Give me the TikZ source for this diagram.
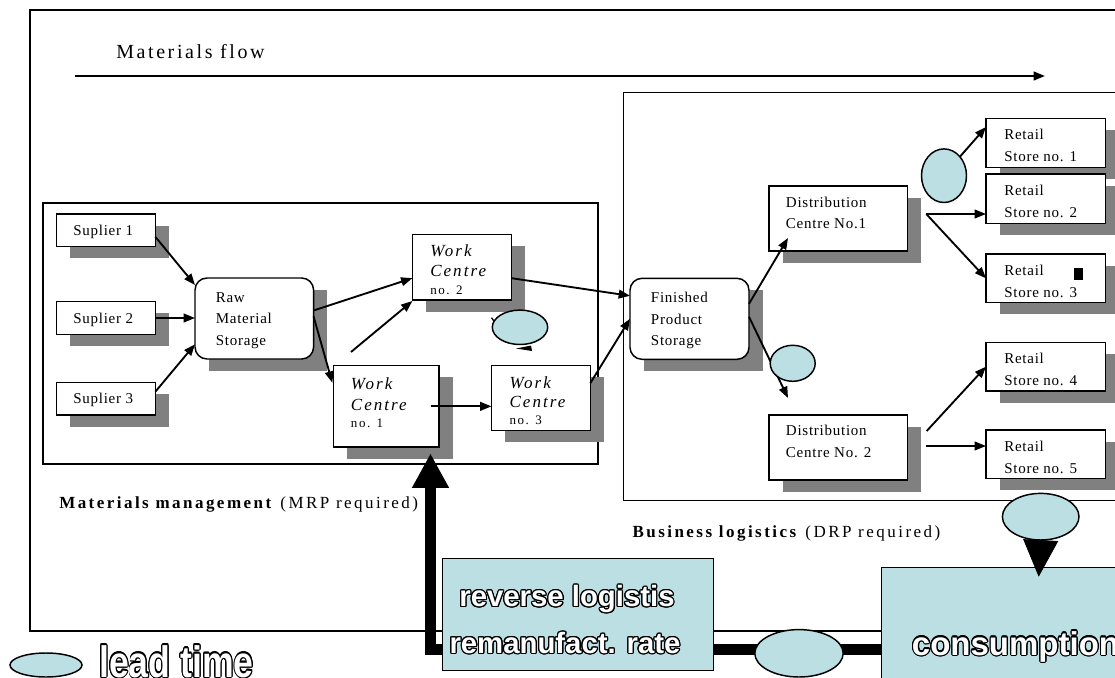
\documentclass[tikz,border=0pt]{standalone}
\usepackage{fontspec}
\setmainfont{Liberation Serif}
\newfontfamily\boxfont[LetterSpace=5]{Liberation Serif}
\newfontfamily\wcfont[LetterSpace=12]{Liberation Serif}
\newfontfamily\labelfont[LetterSpace=14.5]{Liberation Serif}
\newfontfamily\flowfont[LetterSpace=13]{Liberation Serif}
\newfontfamily\heavyfont{Liberation Sans}
\usepackage{contour}
\contourlength{0.9pt}
\usetikzlibrary{arrows.meta,shapes.geometric,calc}

\definecolor{leadcyan}{HTML}{BBDFE3}
\definecolor{shadowgray}{HTML}{808080}

% white letters with a black outline
\newcommand\outl[1]{\textcolor{white}{\contour{black}{#1}}}
% a stack of lines with a fixed baseline distance
\newcommand\stk[2]{\vtop{\baselineskip=#1\lineskiplimit=-20pt\lineskip=0pt #2}}

\begin{document}
\begin{tikzpicture}[x=0.75pt,y=-0.75pt,
  framebox/.style={draw, line width=0.9pt},
  pbox/.style={draw, line width=1.1pt, fill=white, anchor=north west, inner sep=0pt, outer sep=0pt},
  conn/.style={line width=1.4pt, -{Triangle[length=8.5pt,width=6.5pt]}},
  lt/.style={ellipse, draw, line width=1.1pt, fill=leadcyan, inner sep=0pt, outer sep=0pt},
  btxt/.style={anchor=base west, inner sep=0pt, font=\boxfont\fontsize{11.25}{16}\selectfont},
  wctxt/.style={anchor=base west, inner sep=0pt, font=\wcfont\itshape\fontsize{12.75}{15}\selectfont},
  lbl/.style={anchor=base west, inner sep=0pt, font=\labelfont\fontsize{12.75}{15}\selectfont},
  otxt/.style={inner sep=0pt, font=\heavyfont\bfseries\fontsize{22}{26}\selectfont},
]
\useasboundingbox (0,0) rectangle (1115,678);
\clip (0,0) rectangle (1115,678);

% box with drop shadow: #1 style, #2 name, corners (#3,#4) and (#5,#6)
\newcommand\shbox[6][]{%
  \fill[shadowgray] (#3+13.5,#4+11.5) rectangle (#5+13.5,#6+11.5);
  \node[pbox,#1,minimum width={(#5-#3)*0.75pt},minimum height={(#6-#4)*0.75pt}] (#2) at (#3,#4) {};
}
% lead time ellipse: name, centre, radii
\newcommand\leadtime[5]{%
  \node[lt,minimum width={2*#4*0.75pt},minimum height={2*#5*0.75pt}] (#1) at (#2,#3) {};
}

% frames
\draw[framebox] (30,10) rectangle (1140,631);
\draw[framebox] (43,203) rectangle (598,464);
\draw[framebox] (623.3,92.3) rectangle (1140,500.7);

% materials flow
\node[anchor=base west, inner sep=0pt, font=\flowfont\fontsize{15}{18}\selectfont] (mflow) at (116,58.3) {Materials flow};
\coordinate (mfa) at (75,76);
\coordinate (mfb) at (1045,76);
\draw[conn, line width=1.6pt] (mfa) -- (mfb);

% materials management boxes
\shbox{s1}{56.5}{214}{155.4}{246.7}
\shbox{s2}{56.5}{301.7}{155.4}{334.3}
\shbox{s3}{56.5}{382.3}{155.4}{415}
\shbox[rounded corners=9pt]{rms}{195}{278}{313.6}{359}
\shbox{wc2}{412.4}{234.3}{511.3}{300}
\shbox{wc1}{333.3}{365.7}{439}{447}
\shbox{wc3}{491.5}{365.7}{590.3}{430.7}

% business logistics boxes
\shbox[rounded corners=9pt]{fps}{630}{278.3}{749}{359.3}
\shbox{dc1}{769}{186}{907.3}{251}
\shbox{dc2}{769}{415}{907.3}{480}
\shbox{r1}{986}{118.3}{1105.3}{167.7}
\shbox{r2}{986}{174}{1105.3}{223.3}
\shbox{r3}{986}{254}{1105.3}{302.7}
\shbox{r4}{986}{342.3}{1105.3}{391}
\shbox{r5}{986}{430}{1105.3}{478.7}
\fill ($(r3.north east)+(-31,14.3)$) rectangle ($(r3.north east)+(-22.6,26)$);

% box texts
\node[btxt] (ts1) at ($(s1.north west)+(16.5,21.5)$) {Suplier 1};
\node[btxt] (ts2) at ($(s2.north west)+(16.5,21.5)$) {Suplier 2};
\node[btxt] (ts3) at ($(s3.north west)+(16.5,21.5)$) {Suplier 3};
\node[btxt] (trms) at ($(rms.north west)+(20.5,24.3)$) {\stk{16.1pt}{\hbox{Raw}\hbox{Material}\hbox{Storage}}};
\node[btxt] (tfps) at ($(fps.north west)+(20.7,24.4)$) {\stk{16.1pt}{\hbox{Finished}\hbox{Product}\hbox{Storage}}};
\node[wctxt] (twc2) at ($(wc2.north west)+(17.6,22.4)$) {\stk{14.5pt}{\hbox{Work}\hbox{Centre}\vskip-1pt\hbox{\upshape\fontsize{9.75}{11}\selectfont no. 2}}};
\node[wctxt] (twc1) at ($(wc1.north west)+(17.4,23.6)$) {\stk{16pt}{\hbox{Work}\hbox{Centre}\vskip-3.2pt\hbox{\upshape\fontsize{9.75}{11}\selectfont no. 1}}};
\node[wctxt] (twc3) at ($(wc3.north west)+(17.8,22.6)$) {\stk{14.5pt}{\hbox{Work}\hbox{Centre}\vskip-2.2pt\hbox{\upshape\fontsize{9.75}{11}\selectfont no. 3}}};
\node[btxt] (tdc1) at ($(dc1.north west)+(16.7,21.7)$) {\stk{15.8pt}{\hbox{Distribution}\hbox{Centre No.1}}};
\node[btxt] (tdc2) at ($(dc2.north west)+(16.7,20.7)$) {\stk{16.2pt}{\hbox{Distribution}\hbox{Centre No. 2}}};
\node[btxt] (tr1) at ($(r1.north west)+(18,21)$) {\stk{16.8pt}{\hbox{Retail}\hbox{Store no. 1}}};
\node[btxt] (tr2) at ($(r2.north west)+(18,21)$) {\stk{16.8pt}{\hbox{Retail}\hbox{Store no. 2}}};
\node[btxt] (tr3) at ($(r3.north west)+(18,21)$) {\stk{16.8pt}{\hbox{Retail}\hbox{Store no. 3}}};
\node[btxt] (tr4) at ($(r4.north west)+(18,21)$) {\stk{16.8pt}{\hbox{Retail}\hbox{Store no. 4}}};
\node[btxt] (tr5) at ($(r5.north west)+(18,21)$) {\stk{16.8pt}{\hbox{Retail}\hbox{Store no. 5}}};

% flows between the boxes
\draw[conn] ($(s1.east)+(0,6.5)$) -- ($(rms.north west)+(0,7)$);
\draw[conn] (s2.east) -- (s2.east -| rms.west);
\draw[conn] ($(s3.east)+(0,-7)$) -- ($(rms.south west)+(0,-14.7)$);
\draw[conn] ($(rms.east)+(0,-8)$) -- ($(wc2.west)+(0,11)$);
\coordinate (f1) at ($(wc1.north west)+(17.7,-13.7)$);
\draw[conn] (f1) -- ($(wc2.south west)+(0,1)$);
\draw[conn] ($(rms.east)+(0,-2)$) -- ($(wc1.north west)+(-1,17)$);
\draw[conn] ($(wc1.east)+(-8,0)$) -- (wc1.east -| wc3.west);
\draw[conn] ($(wc2.east)+(0,11)$) -- ($(fps.west)+(0,-23)$);
\draw[conn] ($(wc3.east)+(0,-15)$) -- (fps.west);
\draw[conn] ($(fps.east)+(0,-15)$) -- ($(dc1.south west)+(19,-13)$);
\draw[conn] ($(fps.east)+(0,-2)$) -- ($(dc2.north west)+(19,-17)$);
\coordinate (j1) at ($(dc1.east)+(19,-4.5)$);
\draw[conn] (j1) -- (j1 -| r2.west);
\draw[conn] (j1) -- (r3.west);
\draw[conn] ($(dc2.east)+(19.4,-16.5)$) -- (r4.west);
\coordinate (j2) at ($(dc2.east)+(19,-1.5)$);
\draw[conn] (j2) -- (j2 -| r5.west);

% lead times
\leadtime{lt1}{520}{327.3}{27.7}{17.2}
\draw[line width=1pt] ($(lt1.center)+(-28.5,-9.6)$) -- ($(lt1.center)+(-25.7,-5.8)$);
\fill ($(lt1.center)+(-4,21.2)$) -- ($(lt1.center)+(11,18.2)$) -- ($(lt1.center)+(12,23.7)$) -- cycle;
\leadtime{lt2}{792.7}{363.3}{22.5}{18}
\leadtime{lt3}{944}{175.7}{22.5}{26.8}
\draw[conn] (lt3.50) -- ($(r1.west)+(0,-16)$);

% reverse logistics loop
\coordinate (rl) at (442.7,649.3);
\coordinate (tipup) at ($(wc1.south east)+(-8.5,6.3)$);
\draw[line width=8.25pt, -{Triangle[length=26pt,width=26pt]}] (rl) -| (tipup);
\node[pbox, fill=leadcyan, minimum width={(713.3-442.7)*0.75pt}, minimum height={(670.7-558.3)*0.75pt}] (rev) at (442.7,558.3) {};
\node[pbox, fill=leadcyan, minimum width={(1140-881.7)*0.75pt}, minimum height={(700-567.7)*0.75pt}] (cons) at (881.7,567.7) {};
\draw[line width=8.25pt] (rev.east |- rl) -- (cons.west |- rl);
\leadtime{lt5}{799}{653.3}{44.2}{23.7}
\leadtime{lt4}{1040.7}{516.7}{38.3}{23.3}
\draw[line width=0.5pt, -{Triangle[length=27.5pt,width=26.25pt]}] (lt4.south) -- ($(lt4.south |- cons.north)+(-2,9)$);

\node[otxt, anchor=base] (trev1) at ($(rev.north west)+(124.3,48.4)$) {\outl{reverse logistis}};
\node[otxt, anchor=base] (trev2) at ($(rev.north west)+(122.3,95)$) {\outl{remanufact. rate}};
\node[otxt, anchor=base west, font=\heavyfont\bfseries\fontsize{24.75}{28}\selectfont] (tcons) at ($(cons.north west)+(30,87.3)$) {\outl{consumption}};

% section labels
\node[lbl] (mm) at (59,508) {\textbf{Materials management} (MRP required)};
\node[lbl] (bl) at (632.3,537.7) {\textbf{Business logistics} (DRP required)};

% legend
\leadtime{leg}{46}{665}{36}{12}
\node[anchor=base west, inner sep=0pt, font=\heavyfont\bfseries\fontsize{33}{36}\selectfont] (tleg) at (99,677) {\scalebox{0.81}[1]{\outl{lead time}}};
\end{tikzpicture}
\end{document}
